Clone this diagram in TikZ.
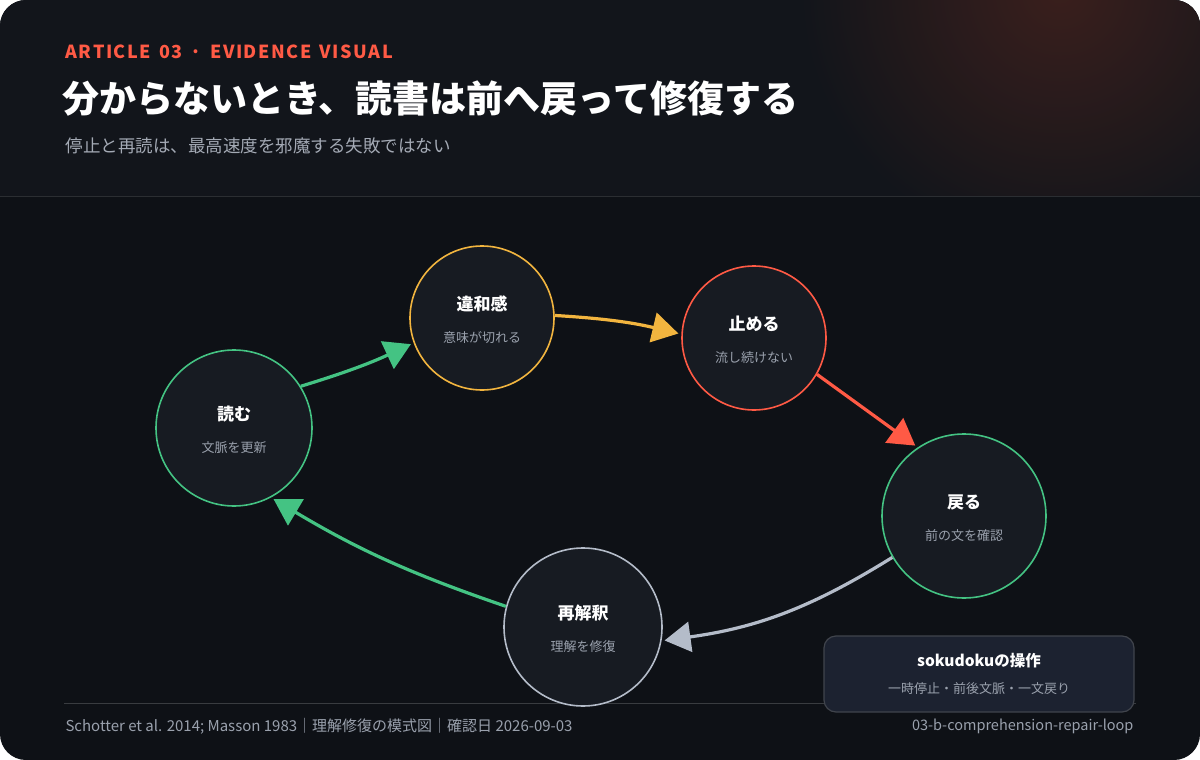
\documentclass[tikz,border=0pt]{standalone}
\usepackage{fontspec}
\setmainfont{Noto Sans CJK JP}
\usetikzlibrary{arrows.meta}
\definecolor{bg}{HTML}{0E1116}
\definecolor{hd}{HTML}{12151B}
\definecolor{cf}{HTML}{171B22}
\definecolor{gr}{HTML}{44C383}
\definecolor{ye}{HTML}{F2B53F}
\definecolor{re}{HTML}{FF5A45}
\definecolor{gy}{HTML}{B4BCC9}
\definecolor{tx}{HTML}{9AA1AD}
\definecolor{bx}{HTML}{1C2230}
\definecolor{glow}{HTML}{3A1F1C}
\begin{document}
\begin{tikzpicture}[x=1pt,y=-1pt,
 stage/.style={circle,draw=#1,line width=1.6pt,fill=cf,inner sep=0pt},
 ttl/.style={font=\fontsize{17}{20}\selectfont\bfseries,text=white},
 sub/.style={font=\fontsize{13}{16}\selectfont,text=tx},
 con/.style={line width=3.2pt,draw=#1,-{Triangle[length=26pt,width=30pt]},shorten >=3pt}]
\useasboundingbox (0,0) rectangle (1200,760);
\fill[white] (0,0) rectangle (1200,760);
\fill[bg,rounded corners=26pt] (0,0) rectangle (1200,760);
\begin{scope}
\clip[rounded corners=26pt] (0,0) rectangle (1200,760);
\clip (0,0) rectangle (1200,196);
\fill[hd] (0,0) rectangle (1200,196);
\shade[inner color=glow,outer color=hd] (1060,-10) circle (260);
\end{scope}
\draw[white!12!bg,line width=1pt] (0,196) -- (1200,196);
\draw[white!18!bg,line width=1pt] (64,703) -- (1136,703);
\node[anchor=west,text=re,font=\fontsize{18}{20}\selectfont\bfseries] (kick) at (62,52) {A\kern1.5pt R\kern1.5pt T\kern1.5pt I\kern1.5pt C\kern1.5pt L\kern1.5pt E\ \ 0\kern1.5pt 3\ \ ·\ \ E\kern1.5pt V\kern1.5pt I\kern1.5pt D\kern1.5pt E\kern1.5pt N\kern1.5pt C\kern1.5pt E\ \ V\kern1.5pt I\kern1.5pt S\kern1.5pt U\kern1.5pt A\kern1.5pt L};
\node[anchor=west,text=white,font=\fontsize{37}{40}\selectfont\bfseries] (title) at (59,99) {分からないとき、読書は前へ戻って修復する};
\node[anchor=west,text=tx!90!white,font=\fontsize{17.5}{20}\selectfont] (subt) at (62,146) {停止と再読は、最高速度を邪魔する失敗ではない};
\node[stage=gr,minimum size=156pt] (a) at (234,428) {};
\node[stage=ye,minimum size=144pt] (b) at (482,318) {};
\node[stage=re,minimum size=144pt] (c) at (754,338) {};
\node[stage=gr,minimum size=164pt] (d) at (964,516) {};
\node[stage=gy,minimum size=158pt] (e) at (583,627) {};
\foreach \n/\t/\s in {a/読む/文脈を更新,b/違和感/意味が切れる,c/止める/流し続けない,d/戻る/前の文を確認,e/再解釈/理解を修復}{
 \node[ttl] at ([yshift=14pt]\n.center) {\t};
 \node[sub] at ([yshift=-20pt]\n.center) {\s};}
\draw[con=gr] (a.32) to[bend right=4] (b.200);
\draw[con=ye] (b.2) to[bend left=5] (c.177);
\draw[con=re] (c.-30) -- (d.124);
\draw[con=gy] (d.-150) to[bend left=12] (e.-10);
\draw[con=gr] (e.165) to[bend left=6] (a.-62);
\node[draw=gy!30!bg,fill=bx,line width=1.2pt,rounded corners=12pt,minimum width=310pt,minimum height=76pt] (box) at (979,674) {};
\node[ttl,font=\fontsize{15.5}{18}\selectfont\bfseries] at (979,661) {sokudokuの操作};
\node[sub] at (979,689) {一時停止・前後文脈・一文戻り};
\node[anchor=west,sub,font=\fontsize{15}{16}\selectfont] (f1) at (62,726) {Schotter et al. 2014; Masson 1983｜理解修復の模式図｜確認日 2026-09-03};
\node[anchor=east,sub,font=\fontsize{14.5}{16}\selectfont] (f2) at (1137,726) {03-b-comprehension-repair-loop};
\end{tikzpicture}
\end{document}
